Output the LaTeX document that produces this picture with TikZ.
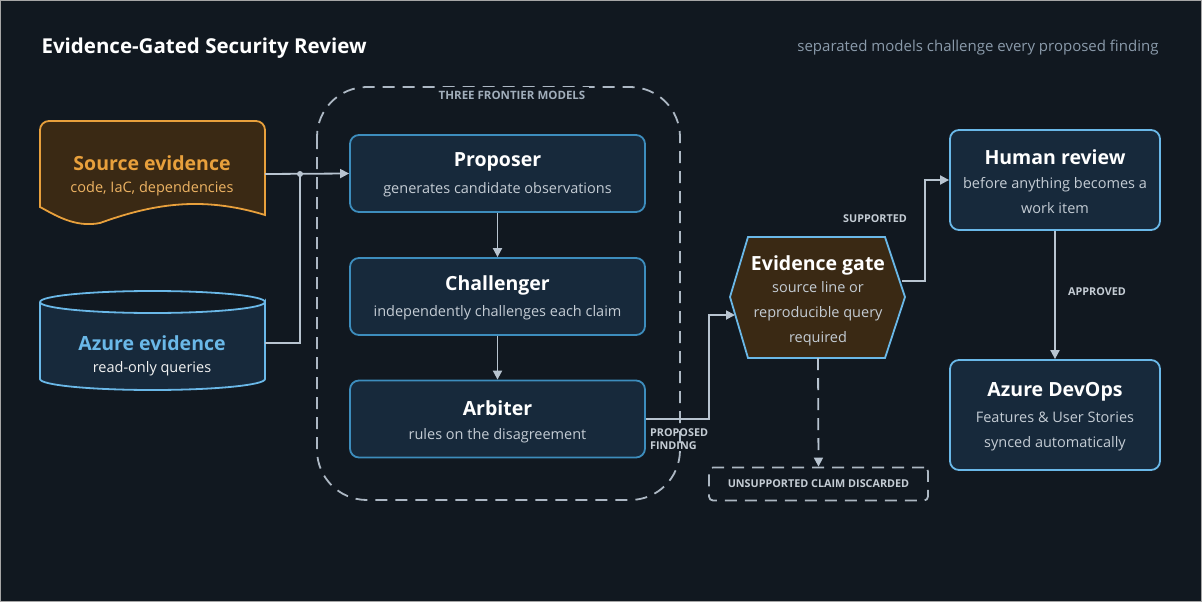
\documentclass[tikz,border=0pt]{standalone}
\usepackage{fontspec}
\setmainfont{Open Sans}
\usetikzlibrary{positioning,arrows.meta}
\definecolor{bgc}{HTML}{111820}
\definecolor{boxfill}{HTML}{17293B}
\definecolor{boxline}{HTML}{3D8DBD}
\definecolor{hiline}{HTML}{6AB8E8}
\definecolor{srcfill}{HTML}{3A2914}
\definecolor{srcline}{HTML}{E8A03C}
\definecolor{wire}{HTML}{B8C4D0}
\definecolor{muted}{HTML}{8A9AAA}
\definecolor{subtext}{HTML}{C4CCD4}
\tikzset{
	box/.style={rectangle, rounded corners=9pt, draw=boxline, fill=boxfill, line width=1.8pt, minimum width=295pt, minimum height=77pt},
	hibox/.style={box, draw=hiline, minimum width=210pt},
	ttl/.style={font=\fontsize{19.5}{22}\selectfont\bfseries, text=white},
	sub/.style={font=\fontsize{14.5}{25}\selectfont, text=subtext, align=center},
	tag/.style={font=\fontsize{10.8}{13}\selectfont\bfseries, text=subtext},
	wireline/.style={draw=wire, line width=1.8pt},
	arr/.style={wireline, -{Triangle[length=9pt,width=9pt]}},
	mydashed/.style={dash pattern=on 12pt off 8pt}
}
\begin{document}
\begin{tikzpicture}[x=1pt,y=-1pt]
		\fill[bgc] (0,0) rectangle (1202,602);
		\draw[gray!70, line width=1pt] (0.5,0.5) rectangle (1201.5,601.5);
		\node[anchor=west, font=\fontsize{20.5}{22}\selectfont\bfseries, text=white] at (38,48) (title) {Evidence-Gated Security Review};
		\node[anchor=east, font=\fontsize{15}{16}\selectfont, text=muted] at (1162,48) (tagline) {separated models challenge every proposed finding};
		
		%Group
		\draw[muted!70, line width=1.8pt, mydashed, rounded corners=50pt] (317,87) rectangle (680,500);
		\node[fill=bgc, tag, font=\fontsize{11.5}{13}\selectfont\bfseries, text=muted!80!white] at (512,95) (group) {THREE FRONTIER MODELS};
		
		%Source document
		\draw[srcline, fill=srcfill, line width=1.8pt] (40,207) -- (40,130) to[out=90,in=180] (49,121) -- (256,121) to[out=0,in=90] (265,130) -- (265,215) .. controls (200,195) and (150,205) .. (100,223) .. controls (75,228) and (55,215) .. (40,207) -- cycle;
		\node[font=\fontsize{19.5}{22}\selectfont\bfseries, text=srcline] at (152,163) (src) {Source evidence};
		\node[font=\fontsize{14.5}{16}\selectfont, text=srcline!80!white] at (152,189) (srcsub) {code, IaC, dependencies};
		\coordinate (srcout) at (265,174);
		
		%Azure cylinder
		\draw[hiline, fill=boxfill, line width=1.8pt] (40,302) -- (40,379) arc[start angle=180, end angle=360, x radius=112.5pt, y radius=11pt] -- (265,302) arc[start angle=0, end angle=-180, x radius=112.5pt, y radius=11pt];
		\draw[hiline, line width=1.8pt] (40,302) arc[start angle=180, end angle=360, x radius=112.5pt, y radius=-11pt];
		\node[font=\fontsize{19.5}{22}\selectfont\bfseries, text=hiline] at (152,343) (az) {Azure evidence};
		\node[font=\fontsize{14.5}{16}\selectfont, text=white!90!gray] at (152,369) (azsub) {read-only queries};
		\coordinate (azout) at (265,343);
		
		%Models
		\node[box] at (497.5,173.5) (prop) {};
		\node[ttl] at (497.5,162) {Proposer};
		\node[sub] at (497.5,190) {generates candidate observations};
		\node[box] at (497.5,296.5) (chal) {};
		\node[ttl] at (497.5,285) {Challenger};
		\node[sub] at (497.5,313) {independently challenges each claim};
		\node[box] at (497.5,419) (arb) {};
		\node[ttl] at (497.5,408) {Arbiter};
		\node[sub] at (497.5,436) {rules on the disagreement};
		
		%Gate
		\draw[hiline, fill=srcfill, line width=1.8pt] (730,297) -- (748,237) -- (885,237) -- (905,297) -- (885,358) -- (748,358) -- cycle;
		\coordinate (gatein) at (735,315);
		\coordinate (gateout) at (902,281);
		\coordinate (gatebot) at (818,358);
		\node[ttl] at (818,265) (gate) {Evidence gate};
		\node[sub] at (818,314) {source line or\\reproducible query\\required};
		
		%Right column
		\node[hibox, minimum height=100pt] at (1055,180) (human) {};
		\node[ttl] at (1055,157) {Human review};
		\node[sub] at (1055,196) {before anything becomes a\\work item};
		\node[hibox, minimum height=110pt] at (1055,415) (devops) {};
		\node[ttl] at (1055,392) {Azure DevOps};
		\node[sub] at (1055,431) {Features \& User Stories\\synced automatically};
		
		%Discard
		\node[draw=muted!70, line width=1.8pt, mydashed, rounded corners=4pt, minimum width=219pt, minimum height=33pt, tag] at (818.5,484) (discard) {UNSUPPORTED CLAIM DISCARDED};
		
		%Lines
		\draw[arr] (srcout) -- (prop.west);
		\draw[wireline] (azout) -| (300,174);
		\fill[wire] (300,174) circle (3pt);
		\draw[arr] (prop.south) -- (chal.north);
		\draw[arr] (chal.south) -- (arb.north);
		\draw[arr] (arb.east) -- (709,419) |- (gatein);
		\draw[arr] (gateout) -- (925,281) |- (human.west);
		\draw[arr] (human.south) -- (devops.north);
		\draw[arr, mydashed] (gatebot) -- (discard.north);
		
		%Tags
		\node[tag, align=left, anchor=north west, inner sep=0pt] at (650,428) {PROPOSED\\FINDING};
		\node[tag] at (875,219) {SUPPORTED};
		\node[tag] at (1097,292) {APPROVED};
	\end{tikzpicture}
\end{document}
